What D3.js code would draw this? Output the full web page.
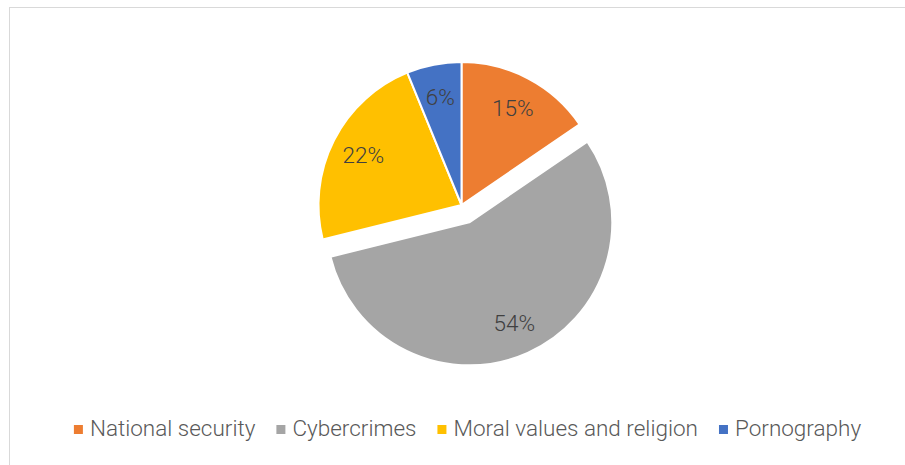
<!DOCTYPE html>
<html>
<head>
<meta charset="utf-8">
<script src="https://cdn.jsdelivr.net/npm/d3@7"></script>
<style>
  html, body { margin: 0; padding: 0; background: #ffffff; }
  svg { display: block; }
  text { font-family: Roboto, "Liberation Sans", sans-serif; font-weight: 300; }
</style>
</head>
<body>
<svg id="chart" width="905" height="465"></svg>
<script>
// Share of concerns, in percent
const categories = ["National security", "Cybercrimes", "Moral values and religion", "Pornography"];
const values = [15, 54, 22, 6];
const colors = ["#ED7D31", "#A5A5A5", "#FFC000", "#4472C4"];
const explodedCategory = "Cybercrimes";

const width = 905, height = 465;
const svg = d3.select("#chart");

// chart frame
svg.append("rect")
  .attr("x", 9.5).attr("y", 7.5)
  .attr("width", 930).attr("height", 490)
  .attr("fill", "#ffffff")
  .attr("stroke", "#d9d9d9")
  .attr("stroke-width", 1);

const cx = 461.5, cy = 205, radius = 143, explode = 19;

const color = d3.scaleOrdinal().domain(categories).range(colors);

const pie = d3.pie().sort(null).value(d => d.value);
const data = categories.map((c, i) => ({ category: c, value: values[i] }));
const arcs = pie(data);

const arc = d3.arc().innerRadius(0).outerRadius(radius);
const labelArc = d3.arc().innerRadius(radius * 0.77).outerRadius(radius * 0.77);

const g = svg.append("g").attr("transform", `translate(${cx},${cy})`);

function offset(d) {
  if (d.data.category !== explodedCategory) return [0, 0];
  const a = (d.startAngle + d.endAngle) / 2;
  return [Math.sin(a) * explode, -Math.cos(a) * explode];
}

const slices = g.selectAll("g.slice")
  .data(arcs)
  .join("g")
  .attr("class", "slice")
  .attr("transform", d => { const o = offset(d); return `translate(${o[0]},${o[1]})`; });

slices.append("path")
  .attr("d", arc)
  .attr("fill", d => color(d.data.category))
  .attr("stroke", "#ffffff")
  .attr("stroke-width", 2)
  .attr("stroke-linejoin", "round");

slices.append("text")
  .attr("transform", d => `translate(${labelArc.centroid(d)})`)
  .attr("text-anchor", "middle")
  .attr("dominant-baseline", "central")
  .attr("font-size", 22.5)
  .attr("fill", "#404040")
  .text(d => d.value + "%");

// legend
const legend = svg.append("g");
const legendY = 436;
const items = legend.selectAll("g.item")
  .data(categories)
  .join("g")
  .attr("class", "item");

items.append("rect")
  .attr("width", 9).attr("height", 9)
  .attr("y", legendY - 11)
  .attr("fill", d => color(d));

items.append("text")
  .attr("x", 16)
  .attr("y", legendY)
  .attr("font-size", 22.5)
  .attr("fill", "#595959")
  .text(d => d);

const gap = 21;
const widths = [];
items.each(function () {
  widths.push(16 + d3.select(this).select("text").node().getComputedTextLength());
});
const total = d3.sum(widths) + gap * (widths.length - 1);
let xPos = 467.5 - total / 2;
items.each(function (d, i) {
  d3.select(this).attr("transform", `translate(${xPos},0)`);
  xPos += widths[i] + gap;
});
</script>
</body>
</html>
